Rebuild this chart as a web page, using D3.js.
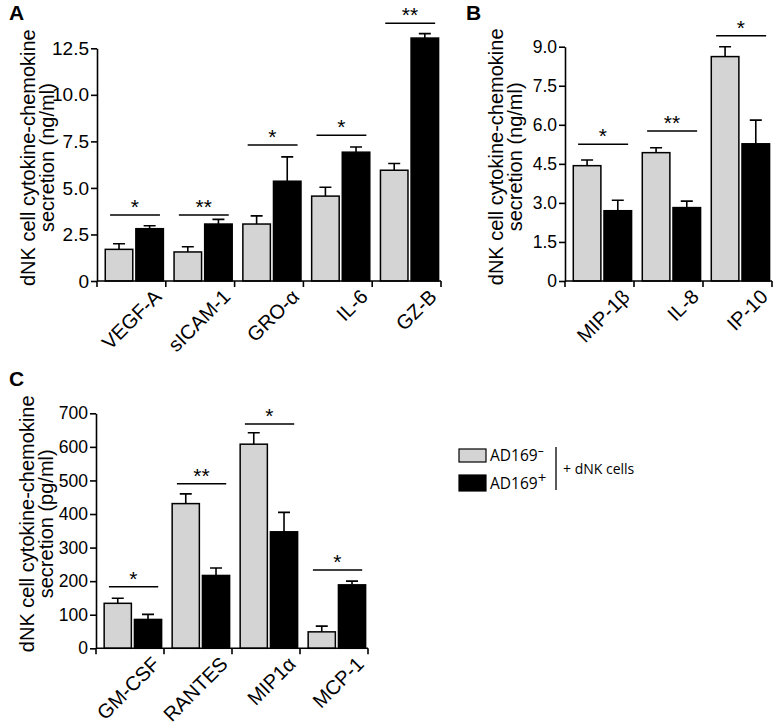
<!DOCTYPE html>
<html>
<head>
<meta charset="utf-8">
<script src="https://cdn.jsdelivr.net/npm/d3@7"></script>
<style>
  body { margin: 0; background: #fff; }
  svg text { font-family: "Liberation Sans", Arial, sans-serif; fill: #000; }
</style>
</head>
<body>
<div id="chart-area"></div>
<script>

// DATA
// =====

// panel A (ng/ml)
var catsA = ['VEGF-A', 'sICAM-1', 'GRO-α', 'IL-6', 'GZ-B'];
var negA = [1.70, 1.56, 3.06, 4.56, 5.95];
var negErrA = [0.30, 0.28, 0.44, 0.48, 0.36];
var posA = [2.81, 3.06, 5.36, 6.92, 13.05];
var posErrA = [0.16, 0.25, 1.31, 0.28, 0.24];
var sigA = ['*', '**', '*', '*', '**'];
var sigLevelA = [3.54, 3.54, 7.3, 7.83, 13.84];
var ticksA = [0, 2.5, 5.0, 7.5, 10.0, 12.5];

// panel B (ng/ml)
var catsB = ['MIP-1β', 'IL-8', 'IP-10'];
var negB = [4.43, 4.93, 8.62];
var negErrB = [0.22, 0.19, 0.38];
var posB = [2.70, 2.82, 5.27];
var posErrB = [0.40, 0.25, 0.91];
var sigB = ['*', '**', '*'];
var sigLevelB = [5.25, 5.76, 9.42];
var ticksB = [0, 1.5, 3.0, 4.5, 6.0, 7.5, 9.0];

// panel C (pg/ml)
var catsC = ['GM-CSF', 'RANTES', 'MIP1α', 'MCP-1'];
var negC = [134, 431, 608, 49];
var negErrC = [15, 29, 34, 17];
var posC = [86, 217, 347, 189];
var posErrC = [15, 22, 58, 11];
var sigC = ['*', '**', '*', '*'];
var sigLevelC = [183, 490, 668, 233];
var ticksC = [0, 100, 200, 300, 400, 500, 600, 700];

var legendLabels = ['AD169', 'AD169'];
var legendSups = ['\u2013', '+'];


// CANVAS
// =======

var svg = d3.select('#chart-area')
    .append('svg')
        .attr('width', 776)
        .attr('height', 725);


// PANEL
// ======

function drawPanel(p) {
    var g, x, y, bw, rows, yAxisCall, mid;

    g = svg.append('g');

    x = d3.scaleBand()
        .domain(p.cats)
        .range([p.left, p.right]);
    bw = x.bandwidth();

    y = d3.scaleLinear()
        .domain([0, p.ymax])
        .range([p.bottom, p.top]);

    rows = p.cats.map((c, i) => {
        return {cat: c, neg: p.neg[i], negErr: p.negErr[i], pos: p.pos[i], posErr: p.posErr[i],
                sig: p.sig[i], sigLevel: p.sigLevel[i]};
    });

    // bars: grey = AD169-, black = AD169+
    var bars = [];
    rows.forEach(d => {
        bars.push({cat: d.cat, v: d.neg, e: d.negErr, off: 0.12, fill: '#d4d4d4'});
        bars.push({cat: d.cat, v: d.pos, e: d.posErr, off: 0.565, fill: '#000'});
    });

    // error bars (up only)
    g.selectAll('.err')
        .data(bars)
        .enter()
        .append('path')
        .attr('class', 'err')
        .attr('fill', 'none')
        .attr('stroke', '#000')
        .attr('stroke-width', 1.6)
        .attr('d', d => {
            var cx = x(d.cat) + bw * (d.off + 0.2);
            return 'M' + cx + ',' + y(d.v) + 'V' + y(d.v + d.e) +
                'M' + (cx - 6) + ',' + y(d.v + d.e) + 'H' + (cx + 6);
        });

    g.selectAll('.bar')
        .data(bars)
        .enter()
        .append('rect')
        .attr('class', 'bar')
        .attr('x', d => x(d.cat) + bw * d.off)
        .attr('y', d => y(d.v))
        .attr('width', bw * 0.4)
        .attr('height', d => y(0) - y(d.v))
        .attr('fill', d => d.fill)
        .attr('stroke', '#000')
        .attr('stroke-width', 1.5);

    // significance lines + stars
    g.selectAll('.sig-line')
        .data(rows)
        .enter()
        .append('line')
        .attr('class', 'sig-line')
        .attr('x1', d => x(d.cat) + bw * 0.19)
        .attr('x2', d => x(d.cat) + bw * 0.915)
        .attr('y1', d => y(d.sigLevel))
        .attr('y2', d => y(d.sigLevel))
        .attr('stroke', '#000')
        .attr('stroke-width', 1.5);

    g.selectAll('.sig-star')
        .data(rows)
        .enter()
        .append('text')
        .attr('class', 'sig-star')
        .attr('x', d => x(d.cat) + bw * 0.55)
        .attr('y', d => y(d.sigLevel) - 1)
        .attr('text-anchor', 'middle')
        .attr('font-size', '21px')
        .text(d => d.sig);

    // y axis
    yAxisCall = d3.axisLeft(y)
        .tickValues(p.ticks)
        .tickSize(6)
        .tickSizeOuter(0)
        .tickPadding(2)
        .tickFormat(p.fmt);
    var ya = g.append('g')
        .attr('transform', 'translate(' + p.left + ',0)')
        .call(yAxisCall);
    ya.select('.domain').attr('stroke-width', 1.6);
    ya.selectAll('.tick line').attr('stroke-width', 1.6);
    ya.selectAll('text')
        .attr('font-size', p.tickSize)
        .attr('font-family', '"Liberation Sans", Arial, sans-serif')
        .attr('fill', '#000');

    // x axis: ticks at group boundaries
    var edges = p.cats.map(c => x(c)).concat([p.right]);
    g.append('line')
        .attr('x1', p.left)
        .attr('x2', p.right)
        .attr('y1', p.bottom)
        .attr('y2', p.bottom)
        .attr('stroke', '#000')
        .attr('stroke-width', 1.6);
    g.selectAll('.xtick')
        .data(edges)
        .enter()
        .append('line')
        .attr('class', 'xtick')
        .attr('x1', d => d)
        .attr('x2', d => d)
        .attr('y1', p.bottom)
        .attr('y2', p.bottom + 6)
        .attr('stroke', '#000')
        .attr('stroke-width', 1.6);

    // slanted category labels
    g.selectAll('.xlabel')
        .data(p.cats)
        .enter()
        .append('text')
        .attr('class', 'xlabel')
        .attr('text-anchor', 'end')
        .attr('font-size', '20px')
        .attr('transform', d => 'translate(' + (x(d) + bw - 3) + ',' + (p.bottom + 17) + ') rotate(-45)')
        .text(d => d);

    // y title (two lines)
    mid = (p.top + p.bottom) / 2 - 7;
    p.title.forEach((t, i) => {
        g.append('text')
            .attr('text-anchor', 'middle')
            .attr('font-size', '20px')
            .attr('transform', 'translate(' + (p.left - 62 + i * 19) + ',' + mid + ') rotate(-90)')
            .text(t);
    });

    // panel letter
    g.append('text')
        .attr('x', p.letterX)
        .attr('y', p.letterY)
        .attr('font-size', '21px')
        .attr('font-weight', 'bold')
        .text(p.letter);
}

drawPanel({
    cats: catsA, neg: negA, negErr: negErrA, pos: posA, posErr: posErrA,
    sig: sigA, sigLevel: sigLevelA, ticks: ticksA, ymax: 12.5,
    fmt: d => d === 0 ? '0' : d3.format('.1f')(d),
    tickSize: '19px',
    left: 97, right: 441, top: 48.3, bottom: 281,
    title: ['dNK cell cytokine-chemokine', 'secretion (ng/ml)'],
    letter: 'A', letterX: 9, letterY: 20
});

drawPanel({
    cats: catsB, neg: negB, negErr: negErrB, pos: posB, posErr: posErrB,
    sig: sigB, sigLevel: sigLevelB, ticks: ticksB, ymax: 9,
    fmt: d => d === 0 ? '0' : d3.format('.1f')(d),
    tickSize: '17.5px',
    left: 565, right: 772, top: 46.7, bottom: 281,
    title: ['dNK cell cytokine-chemokine', 'secretion (ng/ml)'],
    letter: 'B', letterX: 466, letterY: 20
});

drawPanel({
    cats: catsC, neg: negC, negErr: negErrC, pos: posC, posErr: posErrC,
    sig: sigC, sigLevel: sigLevelC, ticks: ticksC, ymax: 700,
    fmt: d3.format('d'),
    tickSize: '17.5px',
    left: 96, right: 368, top: 413.3, bottom: 648.3,
    title: ['dNK cell cytokine-chemokine', 'secretion (pg/ml)'],
    letter: 'C', letterX: 9, letterY: 386
});


// LEGEND
// =======

var leg = svg.append('g').attr('transform', 'translate(459,449)');
var legFills = ['#d4d4d4', '#000'];

leg.selectAll('rect')
    .data(legFills)
    .enter()
    .append('rect')
    .attr('x', 0)
    .attr('y', (d, i) => i * 26)
    .attr('width', 27)
    .attr('height', (d, i) => i === 0 ? 13 : 16)
    .attr('fill', d => d)
    .attr('stroke', '#000')
    .attr('stroke-width', 1.2);

legendLabels.forEach((t, i) => {
    var txt = leg.append('text')
        .attr('x', 31)
        .attr('y', 12 + i * 28)
        .attr('font-size', '15.5px')
        .style('font-family', '"Open Sans", sans-serif');
    txt.append('tspan').text(t);
    txt.append('tspan')
        .attr('dy', -6)
        .attr('font-size', i === 0 ? '12px' : '15px')
        .style('fill', '#000')
        .text(legendSups[i]);
});

leg.append('line')
    .attr('x1', 97).attr('x2', 97)
    .attr('y1', -2).attr('y2', 41)
    .attr('stroke', '#000')
    .attr('stroke-width', 1.3);

leg.append('text')
    .attr('x', 104)
    .attr('y', 25)
    .attr('font-size', '14px')
    .style('font-family', '"Open Sans", sans-serif')
    .text('+ dNK cells');

</script>
</body>
</html>
